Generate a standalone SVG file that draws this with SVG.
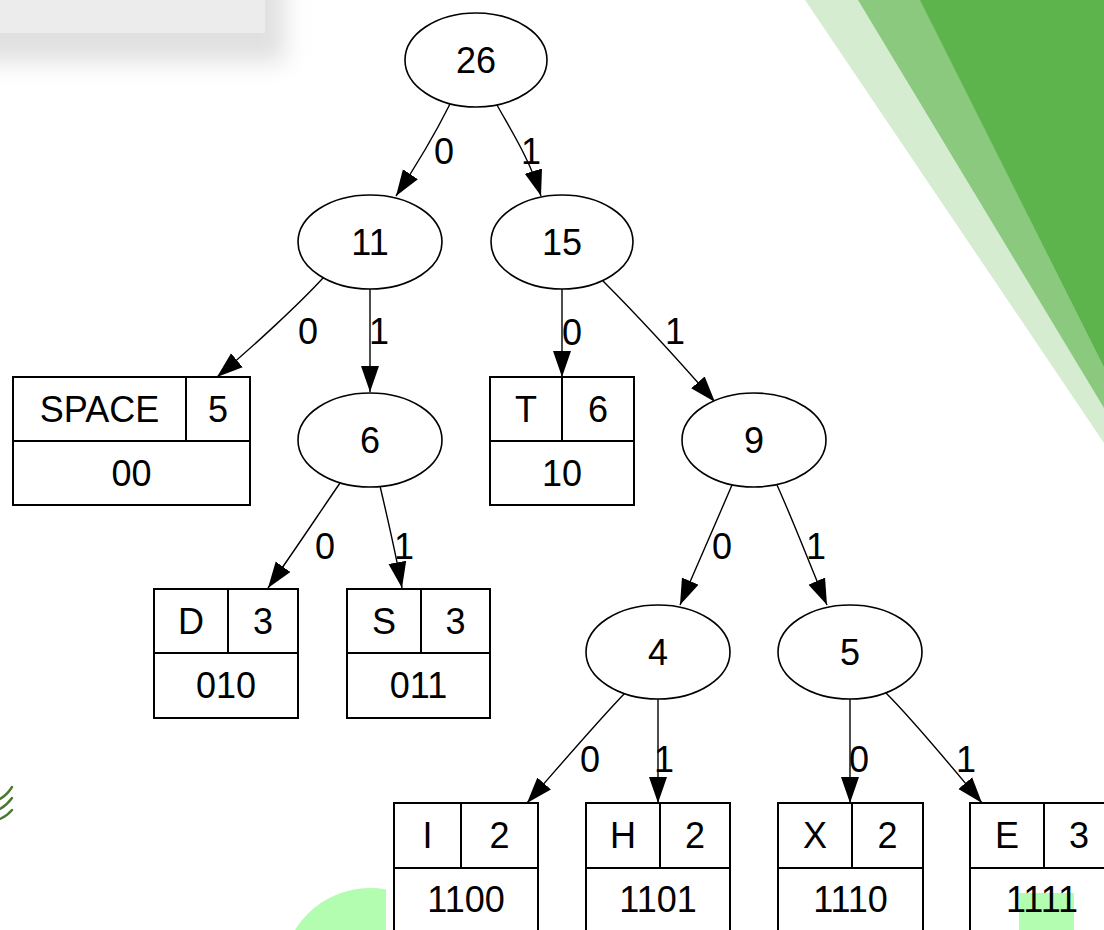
<svg xmlns="http://www.w3.org/2000/svg" width="1104" height="930" viewBox="0 0 1104 930">
<style>
text{font-family:"Liberation Sans",Arial,sans-serif;font-size:36px;fill:#000;text-anchor:middle}
.n ellipse{fill:#fff;stroke:#000;stroke-width:1.6}
.r .bx{fill:#fff;stroke:#000;stroke-width:2}
.r line{stroke:#000;stroke-width:2}
.e path{fill:none;stroke:#000;stroke-width:1.4;marker-end:url(#ah)}
.sq{fill:none;stroke:#4b7a2e;stroke-width:2.4;stroke-linecap:round}
.lg{fill:#b3fdb0}
</style>
<defs>
<marker id="ah" markerUnits="userSpaceOnUse" markerWidth="28" markerHeight="20" viewBox="0 0 28 20" refX="26" refY="10" orient="auto">
<path d="M0,1 L26,10 L0,19 z" fill="#000"/>
</marker>
<filter id="blur" x="-50%" y="-50%" width="200%" height="200%"><feGaussianBlur stdDeviation="12"/></filter>
<clipPath id="cl"><rect x="0" y="0" width="386" height="930"/></clipPath>
</defs>
<rect width="1104" height="930" fill="#fff"/>
<g id="decor">
<rect x="-30" y="-30" width="315" height="92" fill="#e0e0e0" filter="url(#blur)"/>
<rect x="0" y="0" width="265" height="33" fill="#ececec"/>
<polygon points="805,0 1104,0 1104,443" fill="#d5ecd1"/>
<polygon points="858,0 1104,0 1104,408" fill="#8bc97f"/>
<polygon points="920,0 1104,0 1104,367" fill="#5db44c"/>
<circle class="lg" cx="370" cy="976" r="88" clip-path="url(#cl)"/>
<path class="sq" d="M0,799 Q7,795 12,787"/>
<path class="sq" d="M0,809 Q7,805 12,798"/>
<path class="sq" d="M0,819 Q7,816 12,810"/>
</g>
<g id="edges" class="e">
<path d="M450,104 C438,128 420,160 396,196"/>
<path d="M497,105 C512,132 530,160 541,196"/>
<path d="M323,278 C300,303 255,345 217,377"/>
<path d="M370,289 L370,392"/>
<path d="M562,289 L562,377"/>
<path d="M603,281 C640,318 680,362 715,402"/>
<path d="M340,483 C318,515 295,550 268,588"/>
<path d="M380,486 C388,520 396,555 402,588"/>
<path d="M732,485 C715,525 695,570 680,605"/>
<path d="M777,485 C795,525 812,570 827,605"/>
<path d="M625,693 C597,722 556,770 527,803"/>
<path d="M658,699 L658,803"/>
<path d="M850,699 L850,803"/>
<path d="M886,693 C915,722 950,765 982,803"/>
</g>
<g id="edge-labels">
<text x="444" y="164">0</text>
<text x="531" y="164">1</text>
<text x="308" y="344">0</text>
<text x="379" y="344">1</text>
<text x="572" y="345">0</text>
<text x="675" y="344">1</text>
<text x="325" y="559">0</text>
<text x="404" y="559">1</text>
<text x="722" y="559">0</text>
<text x="816" y="559">1</text>
<text x="590" y="772">0</text>
<text x="664" y="772">1</text>
<text x="859" y="772">0</text>
<text x="966" y="772">1</text>
</g>
<g id="n26" class="n"><ellipse cx="476" cy="60" rx="71" ry="47"/><text x="476" y="73">26</text></g>
<g id="n11" class="n"><ellipse cx="370" cy="242" rx="72" ry="47"/><text x="370" y="255">11</text></g>
<g id="n15" class="n"><ellipse cx="562" cy="242" rx="71" ry="47"/><text x="562" y="255">15</text></g>
<g id="n6" class="n"><ellipse cx="370" cy="440" rx="72" ry="47"/><text x="370" y="453">6</text></g>
<g id="n9" class="n"><ellipse cx="754" cy="440" rx="72" ry="47"/><text x="754" y="453">9</text></g>
<g id="n4" class="n"><ellipse cx="658" cy="652" rx="72" ry="47"/><text x="658" y="665">4</text></g>
<g id="n5" class="n"><ellipse cx="850" cy="652" rx="72" ry="47"/><text x="850" y="665">5</text></g>
<g id="space" class="r"><rect class="bx" x="13" y="377" width="237" height="128"/><line x1="13" y1="441" x2="250" y2="441"/><line x1="186" y1="377" x2="186" y2="441"/><text x="99.5" y="422">SPACE</text><text x="218" y="422">5</text><text x="131.5" y="486">00</text></g>
<g id="t" class="r"><rect class="bx" x="490" y="377" width="144" height="128"/><line x1="490" y1="441" x2="634" y2="441"/><line x1="562" y1="377" x2="562" y2="441"/><text x="526" y="422">T</text><text x="598" y="422">6</text><text x="562" y="486">10</text></g>
<g id="d" class="r"><rect class="bx" x="154" y="589" width="144" height="129"/><line x1="154" y1="653" x2="298" y2="653"/><line x1="228" y1="589" x2="228" y2="653"/><text x="191" y="634">D</text><text x="263" y="634">3</text><text x="226" y="698">010</text></g>
<g id="s" class="r"><rect class="bx" x="347" y="589" width="143" height="129"/><line x1="347" y1="653" x2="490" y2="653"/><line x1="421" y1="589" x2="421" y2="653"/><text x="384" y="634">S</text><text x="455.5" y="634">3</text><text x="418.5" y="698">011</text></g>
<g id="i" class="r"><rect class="bx" x="394" y="803" width="144" height="129"/><line x1="394" y1="868" x2="538" y2="868"/><line x1="461" y1="803" x2="461" y2="868"/><text x="427.5" y="848">I</text><text x="499.5" y="848">2</text><text x="466" y="912">1100</text></g>
<g id="h" class="r"><rect class="bx" x="586" y="803" width="144" height="129"/><line x1="586" y1="868" x2="730" y2="868"/><line x1="660" y1="803" x2="660" y2="868"/><text x="623" y="848">H</text><text x="695" y="848">2</text><text x="658" y="912">1101</text></g>
<g id="x" class="r"><rect class="bx" x="778" y="803" width="145" height="129"/><line x1="778" y1="868" x2="923" y2="868"/><line x1="852" y1="803" x2="852" y2="868"/><text x="815" y="848">X</text><text x="887.5" y="848">2</text><text x="850.5" y="912">1110</text></g>
<g id="e" class="r"><rect class="bx" x="970" y="803" width="144" height="129"/><line x1="970" y1="868" x2="1114" y2="868"/><line x1="1044" y1="803" x2="1044" y2="868"/><text x="1007" y="848">E</text><text x="1079" y="848">3</text><rect class="lg" x="1019" y="893" width="55" height="40"/><text x="1042" y="912">1111</text></g>
</svg>
